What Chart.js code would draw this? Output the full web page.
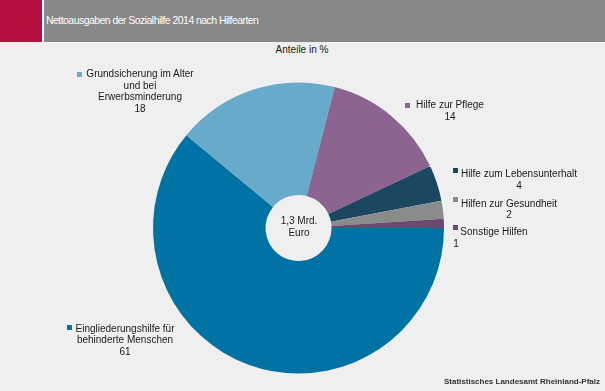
<!DOCTYPE html>
<html><head><meta charset="utf-8">
<script src="https://cdn.jsdelivr.net/npm/chart.js@4/dist/chart.umd.min.js"></script>
<style>
html,body{margin:0;padding:0;background:#EEEFEE;}
#wrap{position:relative;width:605px;height:391px;overflow:hidden;background:#EEEFEE;font-family:"Liberation Sans",Arial,sans-serif;color:#1a1a1a;}
#red{position:absolute;left:0;top:0;width:42px;height:42px;background:#B5113F;}
#gap{position:absolute;left:42px;top:0;width:2px;height:42px;background:#ffffff;}
#hdr{position:absolute;left:44px;top:0;width:561px;height:42px;background:#878888;}
#title{position:absolute;left:46px;top:14px;font-size:10.5px;letter-spacing:-0.55px;color:#ffffff;white-space:nowrap;}
#sub{position:absolute;left:202px;width:200px;top:44px;text-align:center;font-size:10px;white-space:nowrap;}
#cv{position:absolute;left:0;top:0;width:605px;height:391px;}
.lbl{position:absolute;width:220px;text-align:center;font-size:10px;line-height:11.5px;white-space:nowrap;}
.sq{position:absolute;width:5px;height:5px;}
#ctr{position:absolute;left:249px;width:100px;top:215px;text-align:center;font-size:10px;line-height:12.3px;}
#src{position:absolute;right:5px;top:377px;font-size:8px;font-weight:bold;color:#333;white-space:nowrap;}
</style></head>
<body>
<div id="wrap">
  <div id="red"></div><div id="gap"></div><div id="hdr"></div>
  <div id="title">Nettoausgaben der Sozialhilfe 2014 nach Hilfearten</div>
  <div id="sub">Anteile in %</div>
  <div id="cv"><canvas id="c"></canvas></div>
  <div id="ctr">1,3 Mrd.<br>Euro</div>
  <div id="src">Statistisches Landesamt Rheinland-Pfalz</div>
</div>
<script>
// Data
const categories = [
  "Eingliederungshilfe für behinderte Menschen",
  "Grundsicherung im Alter und bei Erwerbsminderung",
  "Hilfe zur Pflege",
  "Hilfe zum Lebensunterhalt",
  "Hilfen zur Gesundheit",
  "Sonstige Hilfen"
];
const values = [61, 18, 14, 4, 2, 1];
const labelLines = [
  ["Eingliederungshilfe für", "behinderte Menschen"],
  ["Grundsicherung im Alter", "und bei", "Erwerbsminderung"],
  ["Hilfe zur Pflege"],
  ["Hilfe zum Lebensunterhalt"],
  ["Hilfen zur Gesundheit"],
  ["Sonstige Hilfen"]
];
const colors = ["#0073A4", "#67AAC9", "#8B6490", "#1B4860", "#8A8B8B", "#6A4A6E"];

// Layout of annotation labels (positions only)
const labelPos = [
  {cx: 125, top: 322.5, sx: 67, sy: 325},
  {cx: 140, top: 68,    sx: 77, sy: 71.5},
  {cx: 450, top: 99,    sx: 405, sy: 103},
  {cx: 519, top: 168,   sx: 453, sy: 167.5},
  {cx: 509, top: 197.5, sx: 453, sy: 197},
  {cx: 494, top: 226,   sx: 453, sy: 225}
];

const wrap = document.getElementById('wrap');
categories.forEach((cat, i) => {
  const p = labelPos[i];
  const d = document.createElement('div');
  d.className = 'lbl';
  d.style.left = (p.cx - 110) + 'px';
  d.style.top = p.top + 'px';
  let html = labelLines[i].join('<br>') + '<br>';
  if (i === 5) {
    html = labelLines[i].join('<br>') + '<br><span style="position:relative;left:-38px">' + values[i] + '</span>';
  } else {
    html += values[i];
  }
  d.innerHTML = html;
  wrap.appendChild(d);
  const s = document.createElement('div');
  s.className = 'sq';
  s.style.left = p.sx + 'px';
  s.style.top = p.sy + 'px';
  s.style.background = colors[i];
  wrap.appendChild(s);
});

new Chart(document.getElementById('c'), {
  type: 'doughnut',
  data: {
    labels: categories,
    datasets: [{
      data: values,
      backgroundColor: colors,
      borderWidth: 0,
      hoverOffset: 0
    }]
  },
  options: {
    responsive: true,
    maintainAspectRatio: false,
    animation: false,
    rotation: 90,
    cutout: '22.7%',
    layout: {padding: {left: 153, right: 161, top: 82.5, bottom: 17.5}},
    plugins: {legend: {display: false}, tooltip: {enabled: false}, title: {display: false}}
  }
});
</script>
</body></html>
